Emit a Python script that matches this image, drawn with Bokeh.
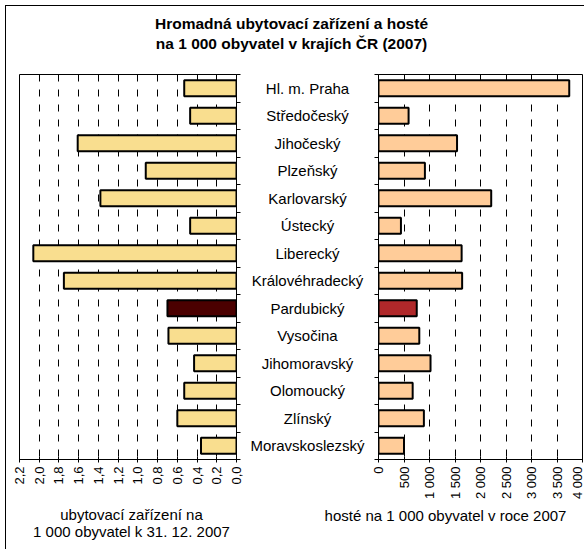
import math
from bokeh.plotting import figure
from bokeh.layouts import column, row
from bokeh.models import Range1d, FixedTicker, ColumnDataSource
from bokeh.core.properties import value
from bokeh.embed import file_html
from bokeh.resources import INLINE

# ---------------- data ----------------
regions = ["Hl. m. Praha", "Středočeský", "Jihočeský", "Plzeňský", "Karlovarský",
           "Ústecký", "Liberecký", "Královéhradecký", "Pardubický", "Vysočina",
           "Jihomoravský", "Olomoucký", "Zlínský", "Moravskoslezský"]
facilities = [0.53, 0.47, 1.61, 0.92, 1.38, 0.47, 2.06, 1.75, 0.70, 0.69, 0.43, 0.53, 0.60, 0.36]
guests = [3740, 590, 1540, 910, 2210, 440, 1630, 1640, 750, 800, 1020, 670, 890, 500]
highlight = "Pardubický"

left_ticks = [0.0, 0.2, 0.4, 0.6, 0.8, 1.0, 1.2, 1.4, 1.6, 1.8, 2.0, 2.2]
left_tick_labels = ["0,0", "0,2", "0,4", "0,6", "0,8", "1,0", "1,2", "1,4", "1,6", "1,8", "2,0", "2,2"]
right_ticks = [0, 500, 1000, 1500, 2000, 2500, 3000, 3500, 4000]
right_tick_labels = ["0", "500", "1 000", "1 500", "2 000", "2 500", "3 000", "3 500", "4 000"]

title_lines = ["Hromadná ubytovací zařízení a hosté", "na 1 000 obyvatel v krajích ČR (2007)"]
left_axis_title = ["ubytovací zařízení na", "1 000 obyvatel k 31. 12. 2007"]
right_axis_title = ["hosté na 1 000 obyvatel v roce 2007"]

FONT = "Liberation Sans"
n = len(regions)
ys = [i + 0.5 for i in range(n)]
left_colors = ["#4B0000" if r == highlight else "#F9DE8F" for r in regions]
right_colors = ["#B0282A" if r == highlight else "#FFCC99" for r in regions]
src = ColumnDataSource(dict(y=ys, region=regions, fac=facilities, gst=guests,
                            lc=left_colors, rc=right_colors))

W = 578
TOP_H = 55
ROW_H = 444
BOT_H = 44
DASH = "7 8"


def style_common(p):
    p.background_fill_color = "white"
    p.border_fill_color = "white"


def style_x_axis(ax, ticks, labels):
    ax.ticker = FixedTicker(ticks=ticks)
    ax.major_label_overrides = dict(zip(ticks, labels))
    ax.major_label_orientation = math.pi / 2
    ax.major_label_text_font = FONT
    ax.major_label_text_font_size = "13px"
    ax.major_label_text_color = "black"
    ax.major_label_standoff = 4
    ax.major_tick_in = 3
    ax.major_tick_out = 3
    ax.minor_tick_line_color = None
    ax.axis_line_color = "black"
    ax.major_tick_line_color = "black"


def style_y_axis(ax):
    # category boundary ticks only (no labels)
    ax.ticker = FixedTicker(ticks=[], minor_ticks=list(range(n + 1)))
    ax.major_tick_line_color = None
    ax.minor_tick_in = 0
    ax.minor_tick_out = 4
    ax.minor_tick_line_color = "black"
    ax.axis_line_color = "black"


# ---------------- title strip ----------------
tfig = figure(width=W, height=TOP_H, x_range=Range1d(0, W), y_range=Range1d(TOP_H, 0),
              x_axis_type=None, y_axis_type=None, min_border=0, outline_line_color=None,
              toolbar_location=None, output_backend="svg")
style_common(tfig)
tfig.text(x=[285, 285], y=[17, 37], text=title_lines, text_align="center",
          text_baseline="middle", text_font=value(FONT), text_font_style="bold",
          text_font_size="15.5px", text_color="black")

# ---------------- left panel ----------------
left = figure(width=238, height=ROW_H, x_range=Range1d(2.2, 0), y_range=Range1d(n, 0),
              y_axis_location="right", min_border_left=13, min_border_right=8,
              min_border_top=12, min_border_bottom=46, toolbar_location=None,
              output_backend="svg", outline_line_color="black", outline_line_width=1)
style_common(left)
left.hbar(y="y", left=0, right="fac", height=0.58, source=src, fill_color="lc",
          line_color="black", line_width=2)
left.ygrid.visible = False
left.xgrid.ticker = FixedTicker(ticks=left_ticks[1:-1])
left.xgrid.grid_line_color = "black"
left.xgrid.grid_line_dash = DASH
left.xgrid.grid_line_width = 1
style_x_axis(left.xaxis[0], left_ticks, left_tick_labels)
style_y_axis(left.yaxis[0])

# ---------------- middle labels ----------------
mid = figure(width=126, height=ROW_H, x_range=Range1d(0, 1), y_range=left.y_range,
             x_axis_type=None, y_axis_type=None, min_border_left=0, min_border_right=0,
             min_border_top=12, min_border_bottom=46, outline_line_color=None,
             toolbar_location=None, output_backend="svg")
style_common(mid)
mid.text(x=0.5, y="y", text="region", source=src, text_align="center",
         text_baseline="middle", text_font=value(FONT), text_font_size="15px",
         text_color="black")

# ---------------- right panel ----------------
right = figure(width=214, height=ROW_H, x_range=Range1d(0, 4000), y_range=Range1d(n, 0),
               y_axis_location="left", min_border_left=8, min_border_right=2,
               min_border_top=13, min_border_bottom=46, toolbar_location=None,
               output_backend="svg", outline_line_color="black", outline_line_width=1)
style_common(right)
right.hbar(y="y", left=0, right="gst", height=0.58, source=src, fill_color="rc",
           line_color="black", line_width=2)
right.ygrid.visible = False
right.xgrid.ticker = FixedTicker(ticks=right_ticks[1:-1])
right.xgrid.grid_line_color = "black"
right.xgrid.grid_line_dash = DASH
right.xgrid.grid_line_width = 1
style_x_axis(right.xaxis[0], right_ticks, right_tick_labels)
style_y_axis(right.yaxis[0])

# ---------------- bottom axis titles ----------------
bfig = figure(width=W, height=BOT_H, x_range=Range1d(0, W), y_range=Range1d(BOT_H, 0),
              x_axis_type=None, y_axis_type=None, min_border=0, outline_line_color=None,
              toolbar_location=None, output_backend="svg")
style_common(bfig)
bfig.text(x=[125, 125], y=[9, 26], text=left_axis_title, text_align="center",
          text_baseline="middle", text_font=value(FONT), text_font_size="15px",
          text_color="black")
bfig.text(x=[439], y=[10], text=right_axis_title, text_align="center",
          text_baseline="middle", text_font=value(FONT), text_font_size="15px",
          text_color="black")

layout = column(tfig, row(left, mid, right, spacing=0), bfig, spacing=0,
                margin=(5, 0, 0, 5),
                styles={"border-left": "1px solid black", "border-top": "1px solid black"})

open("out.html", "w").write(file_html(layout, INLINE))
